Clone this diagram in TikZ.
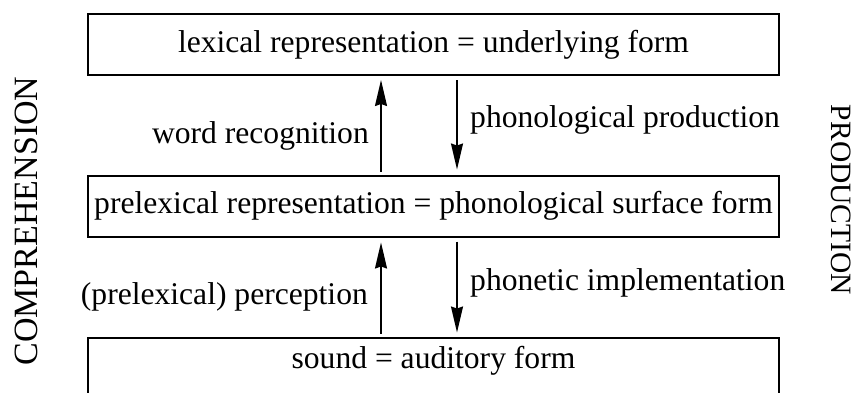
\documentclass[tikz,border=0pt]{standalone}
\usepackage{fontspec}
\setmainfont{Liberation Serif}
\usetikzlibrary{arrows.meta}
\begin{document}
\begin{tikzpicture}[x=1pt,y=-1pt,
  box/.style={draw, line width=2pt, rectangle, inner sep=0pt, minimum width=691pt,
    minimum height=61pt, text height=22pt, text depth=7pt, font=\fontsize{31.6}{36}\selectfont},
  lbl/.style={inner sep=0pt, font=\fontsize{31.6}{36}\selectfont},
  arr/.style={line width=1.5pt, -{Stealth[length=26pt,width=12pt,inset=2pt]}}]
\useasboundingbox (0,0) rectangle (858,392);
\node[box] (lex) at (433.5,44.5) {lexical representation = underlying form};
\node[box] (mid) at (433.5,206) {prelexical representation = phonological surface form};
\node[box, anchor=north, minimum height=70pt, text depth=31pt] (snd) at (433.5,336.5) {sound = auditory form};
\coordinate (ux) at (381,0);
\coordinate (dx) at (457,0);
\draw[arr, shorten <=3pt, shorten >=4pt] (mid.north -| ux) -- (lex.south -| ux);
\draw[arr, shorten <=4pt, shorten >=5pt] (lex.south -| dx) -- (mid.north -| dx);
\draw[arr, shorten <=3pt, shorten >=5pt] (snd.north -| ux) -- (mid.south -| ux);
\draw[arr, shorten <=4pt, shorten >=4pt] (mid.south -| dx) -- (snd.north -| dx);
\node[lbl, anchor=base east] (wr) at (369,143) {word recognition};
\node[lbl, anchor=base west] (pp) at (470,127) {phonological production};
\node[lbl, anchor=base east] (pe) at (368,304) {(prelexical) perception};
\node[lbl, anchor=base west] (pi) at (470,290) {phonetic implementation};
\node[inner sep=0pt, rotate=90, font=\fontsize{34}{38}\selectfont] (comp) at (26,221) {COMPREHENSION};
\node[inner sep=0pt, rotate=-90, font=\fontsize{29.5}{34}\selectfont] (prod) at (841,200) {PRODUCTION};
\end{tikzpicture}
\end{document}
